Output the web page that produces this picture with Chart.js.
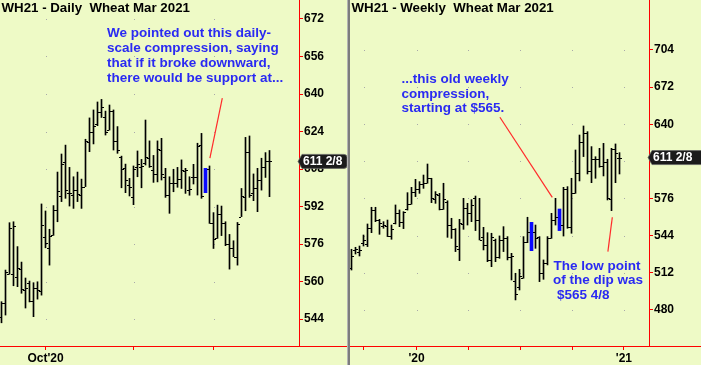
<!DOCTYPE html>
<html><head><meta charset="utf-8">
<script src="https://cdn.jsdelivr.net/npm/chart.js@4.4.1/dist/chart.umd.min.js"></script>
<style>
html,body{margin:0;padding:0;background:#EEFAC6;width:701px;height:365px;overflow:hidden;}
#c1{position:absolute;left:0;top:0;}
#c2{position:absolute;left:350px;top:0;}
#dv{position:absolute;left:347px;top:0;width:3px;height:365px;background:linear-gradient(to right,#b4b4b4 0,#b4b4b4 1px,#7c7c7c 1px,#7c7c7c 3px);}
</style></head><body>
<canvas id="c1" width="348" height="365"></canvas>
<div id="dv"></div>
<canvas id="c2" width="351" height="365"></canvas>
<script>
// ---------------- DAILY (left panel) ----------------
const dailyOpen  = [545.0,551.0,563.1,563.1,561.8,565.2,556.4,559.2,551.7,557.1,556.0,579.1,574.1,579.7,590.5,596.5,611.1,597.6,596.9,599.0,596.9,600.5,619.7,623.6,627.0,632.5,630.3,624.6,632.7,620.1,613.0,608.3,601.2,596.2,608.7,608.7,610.4,612.6,607.6,605.7,616.1,604.7,596.9,601.9,601.9,603.7,607.3,599.0,604.4,604.7,618.2,600.0,607.9,584.8,578.4,588.7,584.8,575.9,574.1,570.6,587.7,596.2,615.4,597.6,599.7,603.3,608.7,611.4];
const dailyHigh  = [551.4,564.9,585.1,585.5,574.9,568.3,561.5,560.2,559.5,559.9,593.1,590.1,582.3,592.4,606.7,614.4,618.2,608.7,604.7,606.7,603.7,620.7,629.8,633.2,636.6,637.7,632.7,635.3,633.2,626.1,613.5,610.1,604.0,609.3,615.7,612.1,628.9,620.0,613.8,620.0,621.1,608.3,604.7,607.9,608.7,611.9,608.3,604.7,610.0,619.0,623.2,608.3,609.3,589.4,592.6,592.2,585.5,580.1,577.4,585.2,599.7,621.5,622.1,605.9,608.3,612.6,615.0,615.9];
const dailyLow   = [542.4,545.7,563.1,558.2,557.8,555.0,548.7,551.3,545.0,552.5,554.2,574.4,567.0,579.7,585.5,594.1,595.5,592.2,591.2,594.1,591.2,600.5,615.4,618.7,626.5,630.0,622.5,624.6,616.1,614.7,600.0,597.9,596.5,592.8,604.7,600.0,609.7,608.7,602.3,602.5,603.3,595.9,589.1,598.3,600.2,599.7,597.6,596.8,601.6,596.9,595.5,597.9,584.8,574.1,578.4,579.6,575.3,565.3,570.6,567.0,587.7,590.2,595.9,594.5,589.8,599.0,604.4,596.2];
const dailyClose = [551.0,563.9,583.0,583.8,565.6,556.8,557.1,551.7,557.1,556.4,584.1,576.3,579.6,590.5,598.6,610.1,599.0,597.6,599.0,597.3,600.5,620.1,623.6,626.5,632.2,634.3,623.9,632.7,620.1,616.1,607.9,603.3,600.5,607.9,610.1,609.3,613.3,609.3,605.9,616.4,605.9,596.9,601.9,601.9,603.7,607.6,607.6,599.3,604.7,617.8,596.5,606.0,584.8,578.0,588.7,584.8,575.9,574.1,570.6,584.4,596.5,615.4,596.9,599.7,603.3,608.7,611.4,611.25];
const dailyHighlight = [51];
const dailyTickPos = [11, 33, 53];
const dailyTickLabels = ["Oct'20", "", ""];
const dailyYTicks = [544, 560, 576, 592, 608, 624, 640, 656, 672];
const dailyYTickLabels = ["544","560","576","592","608","624","640","656","672"];
const dailyTitle = "WH21 - Daily  Wheat Mar 2021";
const dailyNote = ["We pointed out this daily-", "scale compression, saying", "that if it broke downward,", "there would be support at..."];
const dailyPointer = [[55.2, 638.2], [52.1, 612.6]];

// ---------------- WEEKLY (right panel) ----------------
const weeklyOpen  = [515.8,531.6,530.2,537.3,536.5,550.3,566.1,557.4,552.3,552.3,543.7,555.1,563.8,556.0,567.0,571.2,581.9,583.9,588.2,589.1,593.4,575.3,579.0,566.6,573.3,553.1,549.4,532.2,554.0,567.5,563.2,576.1,557.5,543.1,535.9,523.0,540.2,525.9,540.2,541.6,525.9,505.2,500.0,507.2,538.8,540.0,547.4,543.1,511.5,520.1,542.2,557.5,552.0,553.1,583.9,551.7,581.0,598.3,625.0,632.7,600.0,609.8,609.8,604.0,607.7,575.3,618.4,610.6];
const weeklyHigh  = [532.2,533.9,535.0,544.5,554.0,568.4,568.4,558.0,556.0,557.4,553.1,570.4,566.1,564.6,581.0,585.6,592.5,590.5,596.2,605.7,593.4,581.9,580.4,589.1,574.0,558.9,550.0,558.0,576.1,571.8,575.0,578.1,576.1,551.1,546.5,546.0,541.0,543.7,551.7,543.1,528.7,511.5,514.9,543.1,559.8,555.4,553.1,543.1,523.0,543.1,563.2,576.1,566.9,585.6,586.2,593.4,617.8,630.7,638.5,633.6,620.7,612.0,619.2,623.5,609.8,619.2,623.0,615.5];
const weeklyLow   = [514.3,528.1,526.4,535.0,534.5,546.5,556.0,545.1,550.3,543.1,540.8,554.0,551.7,550.0,566.0,571.0,577.6,580.4,584.7,589.1,572.4,571.8,566.1,566.6,542.5,541.6,530.2,522.4,549.4,553.1,556.0,548.3,540.2,531.6,521.5,517.2,521.5,524.4,530.2,523.0,505.7,488.5,497.1,507.2,537.9,531.0,533.0,504.3,506.3,518.7,541.6,553.1,548.3,543.6,550.3,546.0,580.4,591.1,612.1,597.1,589.6,593.4,602.9,595.4,574.7,565.5,589.6,597.1];
const weeklyClose = [526.4,532.2,531.6,540.2,550.3,566.1,557.4,555.1,553.1,543.7,549.4,563.8,556.0,564.6,571.2,581.9,583.9,588.2,589.1,593.4,576.1,579.6,566.6,575.3,553.1,549.4,535.0,554.6,567.5,563.2,570.0,557.5,540.2,535.9,523.0,543.1,525.9,540.2,541.6,525.9,526.4,493.7,509.2,538.8,546.8,550.0,542.2,511.5,520.1,542.2,557.5,560.3,562.0,583.9,551.7,580.4,598.3,625.0,632.7,600.0,609.8,609.8,604.0,607.7,576.1,618.4,615.5,611.25];
const weeklyHighlight = [45, 52];
const weeklyTickPos = [3.1, 16.25, 29.2, 42.2, 55.2, 68.1];
const weeklyTickLabels = ["", "'20", "", "", "", "'21"];
const weeklyYTicks = [480, 512, 544, 576, 608, 640, 672, 704];
const weeklyYTickLabels = ["480","512","544","576","","640","672","704"];
const weeklyTitle = "WH21 - Weekly  Wheat Mar 2021";
const weeklyNote1 = ["...this old weekly", "compression,", "starting at $565."];
const weeklyNote2 = ["The low point", "of the dip was", "$565 4/8"];
const weeklyPointer1 = [[37.1, 646.0], [50.2, 577.0]];
const weeklyPointer2 = [[65.2, 559.8], [64.1, 530.1]];

// ---------------- rendering ----------------
const FONT = '"Liberation Sans", Arial, sans-serif';
Chart.defaults.font.family = FONT;
const BLUE_TEXT = '#2a2af2';

function fmtPrice(v){
  const w = Math.floor(v); const e = Math.round((v - w) * 8);
  return e ? (w + ' ' + e + '/8') : String(w);
}

function build(canvas, p){
  const n = p.open.length;
  const idx = [...Array(n).keys()];
  const blackData = idx.filter(i => !p.highlight.includes(i)).map(i => ({x: i, y: [p.low[i], p.high[i]]}));
  const blueData = p.highlight.map(i => ({x: i, y: [p.low[i], p.high[i]]}));

  const plug = {
    id: 'ohlc',
    beforeDatasetsDraw(chart){
      const ctx = chart.ctx, xs = chart.scales.x, ys = chart.scales.y;
      ctx.save();
      ctx.fillStyle = '#a9a9a9';
      for (const xt of p.xTicks) for (const yt of p.yTicks){
        ctx.fillRect(Math.round(xs.getPixelForValue(xt)), Math.round(ys.getPixelForValue(yt)), 1, 1);
      }
      ctx.restore();
    },
    afterDatasetsDraw(chart){
      const ctx = chart.ctx, xs = chart.scales.x, ys = chart.scales.y;
      ctx.save();
      ctx.fillStyle = '#000';
      for (let i = 0; i < n; i++){
        if (p.highlight.includes(i)) continue;
        const xl = Math.floor(xs.getPixelForValue(i));
        const yo = Math.round(ys.getPixelForValue(p.open[i]));
        const yc = Math.round(ys.getPixelForValue(p.close[i]));
        ctx.fillRect(xl - 2, yo, 2, 1);
        ctx.fillRect(xl + 1, yc, 2, 1);
      }
      // pointer lines
      ctx.strokeStyle = '#ff2a2a'; ctx.lineWidth = 1.2;
      for (const pt of p.pointers){
        ctx.beginPath();
        ctx.moveTo(xs.getPixelForValue(pt[0][0]), ys.getPixelForValue(pt[0][1]));
        ctx.lineTo(xs.getPixelForValue(pt[1][0]), ys.getPixelForValue(pt[1][1]));
        ctx.stroke();
      }
      // notes
      ctx.font = 'bold 13.5px ' + FONT;
      ctx.fillStyle = BLUE_TEXT; ctx.textBaseline = 'middle'; ctx.textAlign = 'left';
      for (const nt of p.notes){
        nt.lines.forEach((t, k) => ctx.fillText(t, nt.x + (nt.dx ? nt.dx[k] : 0), nt.y + k * nt.lh));
      }
      // title
      ctx.font = 'bold 13.3px ' + FONT;
      ctx.fillStyle = '#000';
      ctx.fillText(p.title, p.titleX, 8.5);
      ctx.restore();
    },
    afterDraw(chart){
      const ctx = chart.ctx, ys = chart.scales.y, ca = chart.chartArea;
      ctx.save();
      ctx.fillStyle = '#ff0000';
      ctx.fillRect(0, Math.floor(ca.bottom), chart.width, 1);
      // price box
      const last = p.close[n - 1];
      const y = ys.getPixelForValue(last);
      const tipX = ca.right - 1, rightX = p.boxRight, h = 14, top = y - 7;
      ctx.beginPath();
      ctx.moveTo(tipX, y);
      ctx.lineTo(tipX + 4, top);
      ctx.lineTo(rightX - 3, top);
      ctx.quadraticCurveTo(rightX, top, rightX, top + 3);
      ctx.lineTo(rightX, top + h - 3);
      ctx.quadraticCurveTo(rightX, top + h, rightX - 3, top + h);
      ctx.lineTo(tipX + 4, top + h);
      ctx.closePath();
      ctx.fillStyle = '#1b1b1b'; ctx.fill();
      ctx.strokeStyle = '#666'; ctx.lineWidth = 0.8; ctx.stroke();
      ctx.fillStyle = '#fff'; ctx.font = 'bold 12px ' + FONT;
      ctx.textBaseline = 'middle'; ctx.textAlign = 'left';
      ctx.fillText(fmtPrice(last), tipX + 5, y + 0.5);
      ctx.restore();
    }
  };

  const zeroPad = s => { s.paddingLeft = 0; s.paddingRight = 0; s.paddingTop = 0; s.paddingBottom = 0; };

  return new Chart(canvas, {
    type: 'bar',
    data: {
      datasets: [
        {data: blackData, backgroundColor: '#000', barThickness: 1, borderWidth: 0, grouped: false, borderSkipped: false},
        {data: blueData, backgroundColor: '#0a0aff', barThickness: 3, borderWidth: 0, grouped: false, borderSkipped: false}
      ]
    },
    options: {
      responsive: false, animation: false, devicePixelRatio: 1,
      layout: {padding: 0},
      plugins: {legend: {display: false}, tooltip: {enabled: false}, title: {display: false}},
      scales: {
        x: {
          type: 'linear', position: 'bottom', min: -0.375, max: 74.375, offset: false,
          afterBuildTicks: s => { s.ticks = p.xTicks.map(v => ({value: v})); },
          afterFit: s => { s.height = 19; zeroPad(s); },
          ticks: {autoSkip: false, maxRotation: 0, minRotation: 0, padding: 1, color: '#000',
                  font: {size: 12, weight: 'bold'}, callback: (v, i) => p.xLabels[i]},
          grid: {drawOnChartArea: false, drawTicks: true, tickLength: 4, color: '#ff0000', offset: false},
          border: {display: true, color: '#ff0000', width: 1}
        },
        y: {
          type: 'linear', position: 'right', min: p.yMin, max: p.yMax,
          afterBuildTicks: s => { s.ticks = p.yTicks.map(v => ({value: v})); },
          afterFit: s => { s.width = p.axisWidth; zeroPad(s); },
          ticks: {padding: 1, color: '#000', font: {size: 12, weight: 'bold'}, autoSkip: false,
                  callback: (v, i) => p.yLabels[i]},
          grid: {drawOnChartArea: false, drawTicks: true, tickLength: 4, color: '#ff0000'},
          border: {display: true, color: '#ff0000', width: 1}
        }
      }
    },
    plugins: [plug]
  });
}

build(document.getElementById('c1'), {
  open: dailyOpen, high: dailyHigh, low: dailyLow, close: dailyClose, highlight: dailyHighlight,
  xTicks: dailyTickPos, xLabels: dailyTickLabels, yTicks: dailyYTicks, yLabels: dailyYTickLabels,
  yMin: 532.5, yMax: 680.1, axisWidth: 49, boxRight: 347,
  title: dailyTitle, titleX: 1.5,
  notes: [{x: 107, y: 33.5, lh: 15, lines: dailyNote}],
  pointers: [dailyPointer]
});

build(document.getElementById('c2'), {
  open: weeklyOpen, high: weeklyHigh, low: weeklyLow, close: weeklyClose, highlight: weeklyHighlight,
  xTicks: weeklyTickPos, xLabels: weeklyTickLabels, yTicks: weeklyYTicks, yLabels: weeklyYTickLabels,
  yMin: 448.8, yMax: 747.1, axisWidth: 52, boxRight: 356,
  title: weeklyTitle, titleX: 1.5,
  notes: [
    {x: 51.5, y: 79.5, lh: 14.5, lines: weeklyNote1},
    {x: 203.5, y: 266, lh: 14.5, lines: weeklyNote2, dx: [0, -0.5, 3.5]}
  ],
  pointers: [weeklyPointer1, weeklyPointer2]
});
</script>
</body></html>
